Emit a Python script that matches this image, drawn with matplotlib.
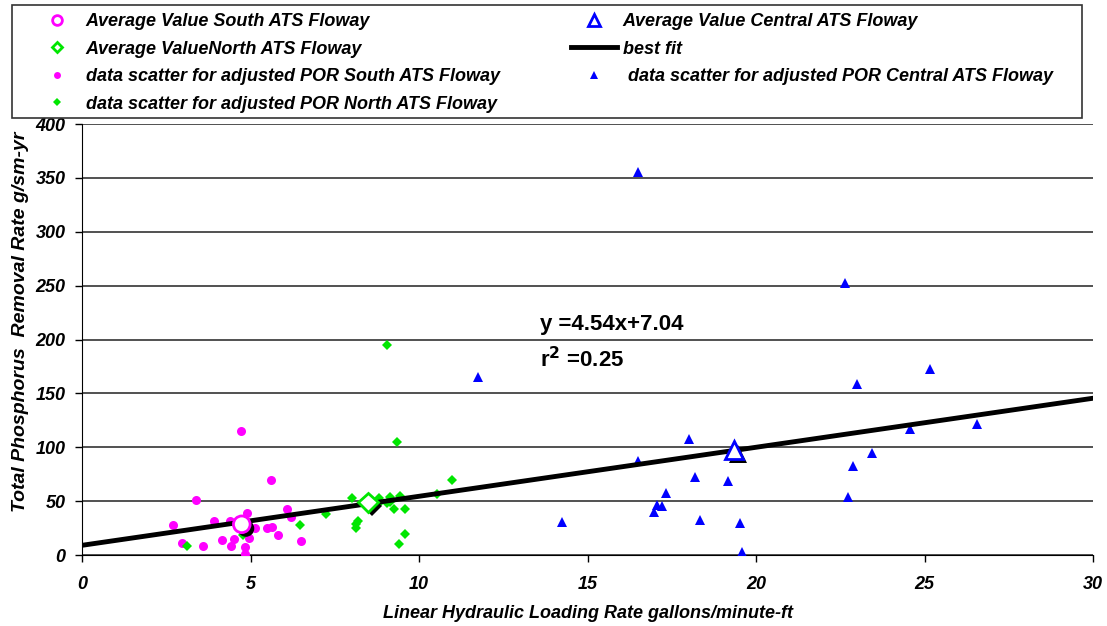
import matplotlib
matplotlib.use('Agg')
import matplotlib.pyplot as plt
import matplotlib.patheffects as pe
from matplotlib.lines import Line2D
from matplotlib.patches import Rectangle

plt.rcParams['font.family'] = ['Liberation Sans', 'DejaVu Sans']

# south ATS floway scatter (x = gallons/minute-ft, y = g/sm-yr)
south_x = [4.72, 5.61, 3.38, 2.69, 3.92, 4.39, 4.91, 6.09, 6.21, 5.13, 5.48, 5.63,
           5.82, 4.95, 2.96, 3.60, 4.16, 4.52, 4.43, 4.83, 4.83, 6.49]
south_y = [115, 69.6, 51, 28, 31.8, 31.8, 38.7, 43, 35, 25, 25, 26.3,
           19, 16, 11.5, 8.7, 14.2, 14.5, 8.7, 7.1, 1, 13]

# north ATS floway scatter
north_x = [3.12, 4.77, 6.47, 7.23, 9.05, 9.36, 10.98, 10.53, 8.00, 8.18, 8.12, 8.12,
           8.81, 8.80, 9.04, 9.13, 9.14, 9.44, 9.25, 9.57, 9.57, 9.41]
north_y = [8.4, 18.3, 28, 38, 195, 104.9, 69.6, 56.6, 53.2, 31.8, 28.8, 25.4,
           53.2, 48, 48.5, 54, 49.5, 55, 42.7, 42.4, 19.5, 9.9]

# central ATS floway scatter
central_x = [16.5, 11.75, 18.0, 16.49, 18.18, 19.17, 17.34, 17.07, 17.22, 16.98, 14.23,
             18.33, 19.53, 19.58, 22.63, 25.15, 23.0, 24.58, 26.55, 23.43, 22.88, 22.74]
central_y = [355, 165, 108, 87.5, 72, 68.4, 57.5, 46, 45.8, 40.2, 31,
             32.8, 30, 3, 252.7, 173, 159, 117, 122, 95, 82.3, 53.8]

# averages
avg_south = (4.74, 28.5)
avg_north = (8.48, 48.9)
avg_central = (19.34, 97.5)

# best fit line as drawn
fit_x = [0, 30]
fit_y = [9.0, 145.5]
fit_eq = 'y =4.54x+7.04'
fit_r2 = 'r$^{\\mathbf{2}}$ =0.25'

MAGENTA = '#FF00FF'
GREEN = '#00E600'
BLUE = '#0000FF'
bi = {'fontweight': 'bold', 'fontstyle': 'italic'}

fig = plt.figure(figsize=(11.07, 6.26), dpi=100)
ax = fig.add_axes([0.0741, 0.1134, 0.9133, 0.6885])

ax.set_xlim(0, 30)
ax.set_ylim(0, 400)
ax.set_xticks(range(0, 31, 5))
ax.set_yticks(range(0, 401, 50))
ax.grid(axis='y', color='#333333', linewidth=1.2)
ax.set_axisbelow(True)
ax.spines['right'].set_visible(False)
ax.spines['top'].set_visible(False)
ax.tick_params(direction='out', length=5, width=1)
ax.tick_params(axis='x', pad=10)
ax.tick_params(axis='y', pad=7)
for lbl in ax.get_xticklabels() + ax.get_yticklabels():
    lbl.set_fontweight('bold')
    lbl.set_fontstyle('italic')
    lbl.set_fontsize(13)

ax.plot(south_x, south_y, 'o', color=MAGENTA, markersize=6.5, markeredgewidth=0, zorder=3)
ax.plot(north_x, north_y, 'D', color=GREEN, markersize=4.8, markeredgewidth=0, zorder=3)
ax.plot(central_x, central_y, '^', color=BLUE, markersize=6.5, markeredgewidth=0, zorder=3)

ax.plot(fit_x, fit_y, color='black', linewidth=3.5, solid_capstyle='round', zorder=4)

shadow = [pe.SimplePatchShadow(offset=(3, -3), shadow_rgbFace='black', alpha=1), pe.Normal()]
ax.plot(*avg_south, 'o', markerfacecolor='white', markeredgecolor=MAGENTA, markersize=12,
        markeredgewidth=2, zorder=5, path_effects=shadow)
ax.plot(*avg_north, 'D', markerfacecolor='white', markeredgecolor=GREEN, markersize=10,
        markeredgewidth=2, zorder=5, path_effects=shadow)
ax.plot(*avg_central, '^', markerfacecolor='white', markeredgecolor=BLUE, markersize=13,
        markeredgewidth=2, zorder=5, path_effects=shadow)

ax.text(13.6, 214, fit_eq, fontsize=16, fontweight='bold', va='center')
ax.text(13.6, 181, fit_r2, fontsize=16, fontweight='bold', va='center')

ax.set_xlabel('Linear Hydraulic Loading Rate gallons/minute-ft', fontsize=13, labelpad=9, **bi)
ax.set_ylabel('Total Phosphorus  Removal Rate g/sm-yr', fontsize=14, **bi)
ax.yaxis.set_label_coords(-0.0524, 0.541)

# legend frame and two columns
fig.add_artist(Rectangle((0.01084, 0.8115), 0.9666, 0.1805, transform=fig.transFigure,
                         facecolor='white', edgecolor='#333333', linewidth=1.2))

col1_handles = [
    Line2D([], [], linestyle='none', marker='o', markerfacecolor='white',
           markeredgecolor=MAGENTA, markeredgewidth=2, markersize=7),
    Line2D([], [], linestyle='none', marker='D', markerfacecolor='white',
           markeredgecolor=GREEN, markeredgewidth=2, markersize=5.5),
    Line2D([], [], linestyle='none', marker='o', color=MAGENTA, markersize=5, markeredgewidth=0),
    Line2D([], [], linestyle='none', marker='D', color=GREEN, markersize=4, markeredgewidth=0),
]
col1_labels = [
    'Average Value South ATS Floway',
    'Average ValueNorth ATS Floway',
    'data scatter for adjusted POR South ATS Floway',
    'data scatter for adjusted POR North ATS Floway',
]
col2_handles = [
    Line2D([], [], linestyle='none', marker='^', markerfacecolor='white',
           markeredgecolor=BLUE, markeredgewidth=2, markersize=8),
    Line2D([], [], color='black', linewidth=3.5),
    Line2D([], [], linestyle='none', marker='^', color=BLUE, markersize=5.5, markeredgewidth=0),
]
col2_labels = [
    'Average Value Central ATS Floway',
    'best fit',
    ' data scatter for adjusted POR Central ATS Floway',
]
leg_kw = dict(loc='upper left', frameon=False, borderaxespad=0, borderpad=0,
              prop={'family': 'Liberation Sans', 'weight': 'bold', 'style': 'italic', 'size': 13},
              handlelength=2.55, handletextpad=0.32, labelspacing=0.58)
leg1 = fig.legend(col1_handles, col1_labels, bbox_to_anchor=(0.0307, 0.979), **leg_kw)
leg2 = fig.legend(col2_handles, col2_labels, bbox_to_anchor=(0.5158, 0.979), **leg_kw)

fig.savefig('out.png', dpi=100)
